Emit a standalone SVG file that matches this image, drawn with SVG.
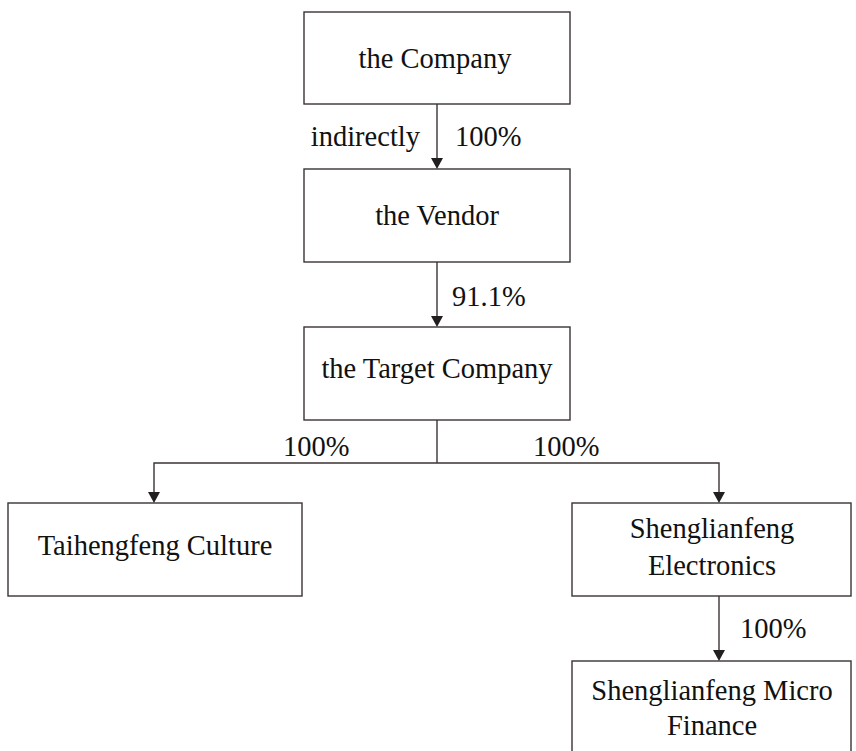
<svg xmlns="http://www.w3.org/2000/svg" width="856" height="751" viewBox="0 0 856 751">
<style>
.box{fill:#fff;stroke:#3b3334;stroke-width:1.4}
.ln{fill:none;stroke:#3b3334;stroke-width:1.4}
.ah{fill:#231f20}
text{font-family:"Liberation Serif","Times New Roman",serif;font-size:28.5px;fill:#111}
.c{text-anchor:middle}
</style>
<rect width="856" height="751" fill="#fff"/>
<g id="connectors">
<line class="ln" x1="437" y1="104" x2="437" y2="158"/>
<path class="ah" d="M431,158 L443,158 L437,169 Z"/>
<line class="ln" x1="437" y1="262" x2="437" y2="316"/>
<path class="ah" d="M431,316 L443,316 L437,327 Z"/>
<polyline class="ln" points="437,420 437,463"/>
<polyline class="ln" points="154,492 154,463 719,463 719,492"/>
<path class="ah" d="M148,492 L160,492 L154,503 Z"/>
<path class="ah" d="M713,492 L725,492 L719,503 Z"/>
<line class="ln" x1="719" y1="596" x2="719" y2="650"/>
<path class="ah" d="M713,650 L725,650 L719,661 Z"/>
<text x="420" y="146" text-anchor="end">indirectly</text>
<text x="455" y="146">100%</text>
<text x="452" y="306">91.1%</text>
<text x="283" y="456">100%</text>
<text x="533" y="456">100%</text>
<text x="740" y="638">100%</text>
</g>
<g id="company">
<rect class="box" x="304" y="12" width="266" height="92"/>
<text class="c" x="435" y="68">the Company</text>
</g>
<g id="vendor">
<rect class="box" x="304" y="169" width="266" height="93"/>
<text class="c" x="437" y="225">the Vendor</text>
</g>
<g id="target">
<rect class="box" x="304" y="327" width="266" height="93"/>
<text class="c" x="437" y="378">the Target Company</text>
</g>
<g id="taihengfeng">
<rect class="box" x="8" y="503" width="294" height="93"/>
<text class="c" x="155" y="555">Taihengfeng Culture</text>
</g>
<g id="electronics">
<rect class="box" x="572" y="503" width="279" height="93"/>
<text class="c" x="712" y="538">Shenglianfeng</text>
<text class="c" x="712" y="575">Electronics</text>
</g>
<g id="microfinance">
<rect class="box" x="572" y="661" width="279" height="100"/>
<text class="c" x="712" y="700">Shenglianfeng Micro</text>
<text class="c" x="712" y="735">Finance</text>
</g>
</svg>
